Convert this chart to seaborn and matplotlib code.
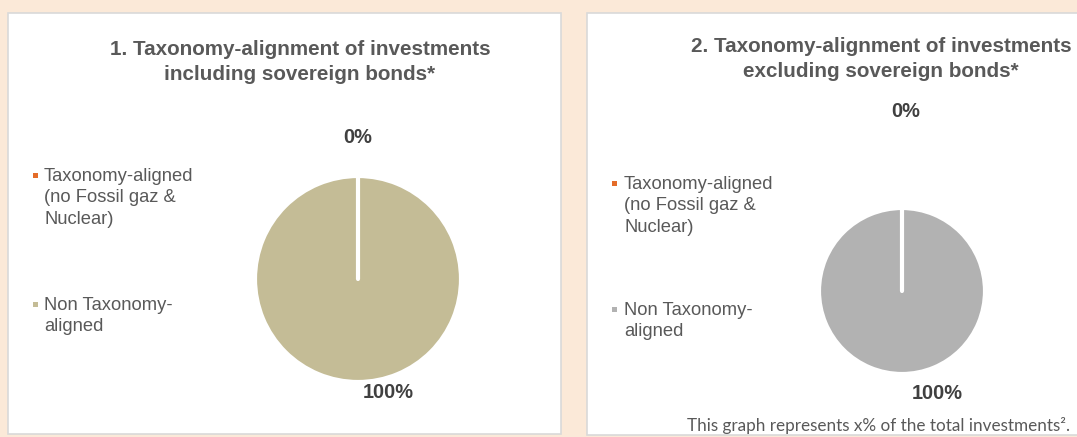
import matplotlib
matplotlib.use("Agg")
import matplotlib.pyplot as plt
from matplotlib.patches import Rectangle
import seaborn as sns

# ---- data ----
categories = ["Taxonomy-aligned\n(no Fossil gaz &\nNuclear)", "Non Taxonomy-\naligned"]
incl_values = [0, 100]
excl_values = [0, 100]
titles = ["1. Taxonomy-alignment of investments\nincluding sovereign bonds*",
          "2. Taxonomy-alignment of investments\nexcluding sovereign bonds*"]
footer = "This graph represents x% of the total investments\u00b2."

sns.set_theme(style="white")
plt.rcParams['font.family'] = ['Liberation Sans', 'DejaVu Sans']

W, H = 1077, 437
fig = plt.figure(figsize=(W / 100, H / 100), dpi=100)
fig.patch.set_facecolor("#FBE9D8")

TXT = "#595959"
colors1 = ["#E46C29", "#C4BC96"]
colors2 = ["#E46C29", "#B2B2B2"]

def fx(px):
    return px / W

def fy(py):
    return 1 - py / H

# panels
for (x0, y0, x1, y1) in [(8, 13, 561, 434), (587, 13, 1090, 435)]:
    fig.patches.append(Rectangle((fx(x0), fy(y1)), fx(x1 - x0), (y1 - y0) / H,
                                 transform=fig.transFigure, facecolor="white",
                                 edgecolor="#D9D9D9", linewidth=1.2, zorder=-5))

def draw_pie(cx, cy, r, values, colors, title, tpos, zero_pos, hund_pos, leg):
    ax = fig.add_axes([fx(cx - r), fy(cy + r), fx(2 * r), 2 * r / H])
    wedges, _ = ax.pie(values, colors=colors, startangle=90, counterclock=False,
                       radius=1, wedgeprops=dict(edgecolor="white", linewidth=3))
    # draw the zero-size slice on top so its white border is visible
    wedges[0].set_zorder(5)
    wedges[0].set_capstyle("round")
    ax.set_xlim(-1, 1)
    ax.set_ylim(-1, 1)
    ax.set_aspect("equal")
    ax.axis("off")
    for v, (lx, ly) in zip(values, [zero_pos, hund_pos]):
        ax.text(lx, ly, f"{v}%", ha="center", va="center", fontsize=14.4,
                fontweight="bold", color="#404040", clip_on=False)
    fig.text(fx(tpos[0]), fy(tpos[1]), title, ha="center", va="center",
             fontsize=14.9, fontweight="bold", color=TXT, linespacing=1.37)
    # legend
    mx, tx, ys = leg
    for cat, col, y in zip(categories, colors, ys):
        fig.patches.append(Rectangle((fx(mx - 2.5), fy(y + 2.5)), fx(5), 5 / H,
                                     transform=fig.transFigure, facecolor=col,
                                     edgecolor="none"))
        fig.text(fx(tx), fy(y - 7), cat, ha="left", va="top", fontsize=13.2,
                 color=TXT, linespacing=1.33)

draw_pie(358, 279, 103, incl_values, colors1, titles[0], (300, 62),
         (0.0, 1.37), (0.29, -1.10), (35, 44, [175, 304]))
draw_pie(902, 291, 83, excl_values, colors2, titles[1], (881, 59),
         (0.04, 2.16), (0.43, -1.23), (614, 624, [183, 309]))

fig.text(fx(1070), fy(426), footer, ha="right", va="center", fontsize=12.3,
         color=TXT, family=["Lato", "DejaVu Sans"])

fig.savefig("out.png", dpi=100, facecolor=fig.get_facecolor())
